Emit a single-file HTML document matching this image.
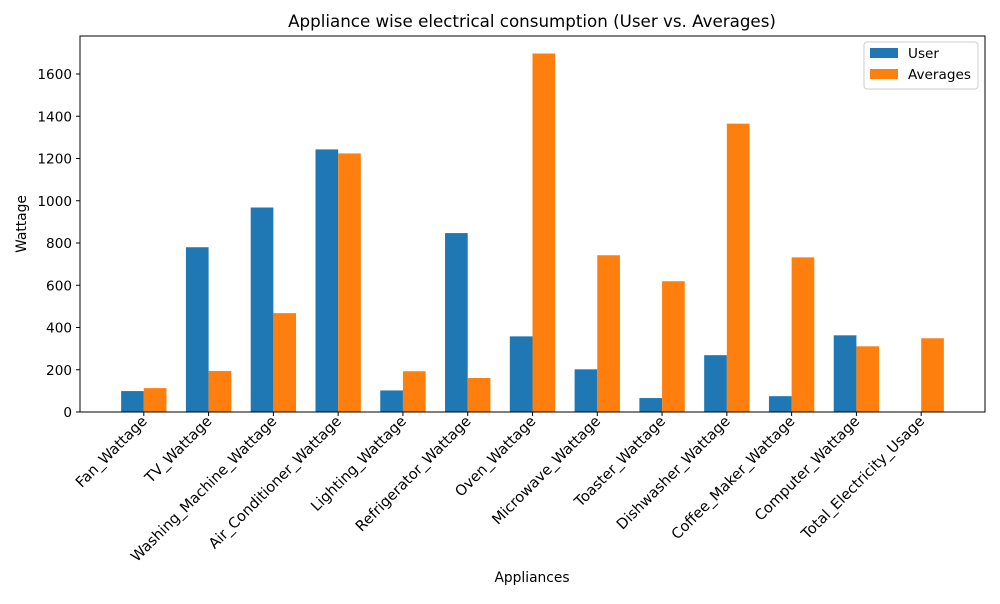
<!DOCTYPE html>
<html><head><meta charset="utf-8"><style>
body{margin:0;background:#fff;font-family:"DejaVu Sans","Liberation Sans",sans-serif;}
svg text{font-family:"DejaVu Sans","Liberation Sans",sans-serif;}
</style></head><body>
<svg id="chart" width="1000" height="600" xmlns="http://www.w3.org/2000/svg">
<rect width="1000" height="600" fill="#fff"/>
<text x="532" y="27" font-size="16.7" text-anchor="middle">Appliance wise electrical consumption (User vs. Averages)</text>
<g id="bars"></g>
<g id="axes"></g>
<rect x="80" y="36" width="905" height="376" fill="none" stroke="#000" stroke-width="1"/>
<text x="532" y="582" font-size="13.8" text-anchor="middle">Appliances</text>
<text transform="translate(26,224) rotate(-90)" font-size="13.8" text-anchor="middle">Wattage</text>
<g>
<rect x="864" y="42" width="114" height="47" fill="#fff" stroke="#ccc" rx="3"/>
<g><rect x="870" y="48" width="28" height="10" fill="#1f77b4"/><text x="908" y="58" font-size="13.6">User</text></g>
<g><rect x="870" y="69" width="28" height="10" fill="#ff7f0e"/><text x="908" y="79" font-size="13.6">Averages</text></g>
</g>
</svg>
<script>
const categories=["Fan_Wattage","TV_Wattage","Washing_Machine_Wattage","Air_Conditioner_Wattage","Lighting_Wattage","Refrigerator_Wattage","Oven_Wattage","Microwave_Wattage","Toaster_Wattage","Dishwasher_Wattage","Coffee_Maker_Wattage","Computer_Wattage","Total_Electricity_Usage"];
const userValues=[99,780,968,1243,102,847,358,202,66,269,75,363,0];
const avgValues=[113,194,468,1224,193,161,1697,742,619,1365,732,311,349];
const yTicks=[0,200,400,600,800,1000,1200,1400,1600];
const NS="http://www.w3.org/2000/svg";
const L=80,R=985,T=36,B=412;
const xmin=-0.985,xmax=categories.length-1+0.985;
const x=i=>L+(i-xmin)/(xmax-xmin)*(R-L);
const y=v=>B-v*0.21125;
const bw=0.35*(R-L)/(xmax-xmin);
function mk(t,a,p){const e=document.createElementNS(NS,t);for(const k in a)e.setAttribute(k,a[k]);p.appendChild(e);return e;}
const bars=document.getElementById('bars'),axes=document.getElementById('axes');
categories.forEach((c,i)=>{
 const u=mk('rect',{x:x(i)-bw,y:y(userValues[i]),width:bw,height:B-y(userValues[i]),fill:'#1f77b4'},bars);
 
 
 const a=mk('rect',{x:x(i),y:y(avgValues[i]),width:bw,height:B-y(avgValues[i]),fill:'#ff7f0e'},bars);
 
 
 mk('line',{x1:x(i),x2:x(i),y1:B,y2:B+4,stroke:'#000'},axes);
 const t=mk('text',{transform:`translate(${x(i)+4},${B+10}) rotate(-45)`,'font-size':14.6,'text-anchor':'end'},axes);
 
 
 t.textContent=c;
});
yTicks.forEach(v=>{
 mk('line',{x1:L-4,x2:L,y1:y(v),y2:y(v),stroke:'#000'},axes);
 const t=mk('text',{x:L-8,y:y(v)+5,'font-size':13.6,'text-anchor':'end'},axes);
 
 
 t.textContent=v;
});
</script>
</body></html>
